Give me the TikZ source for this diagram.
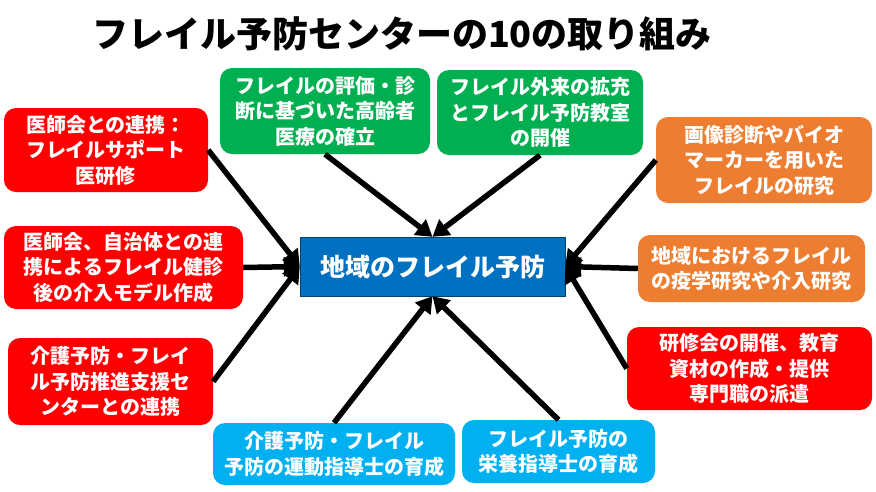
\documentclass[tikz,border=0pt]{standalone}
\usepackage{fontspec}
\setmainfont{Noto Sans CJK JP}
\usetikzlibrary{arrows.meta}

\tikzset{
  waku/.style={rounded corners=12pt, text=white, align=center, inner sep=0pt,
    font=\bfseries\fontsize{20}{25.5}\selectfont},
  yaji/.style={line width=5.5pt, -{Triangle[length=16pt,width=19pt]}}
}
\definecolor{aka}{HTML}{FF0000}
\definecolor{midori}{HTML}{00B050}
\definecolor{daidai}{HTML}{ED7D31}
\definecolor{mizu}{HTML}{00B0F0}
\definecolor{ao}{HTML}{0070C0}

\begin{document}
\begin{tikzpicture}[x=1pt, y=-1pt]
	\useasboundingbox[fill=white] (0,0) rectangle (876,491);
	\node (title) at (402,34) {\bfseries\fontsize{36}{40}\selectfont フレイル予防センターの10の取り組み};
	\node[draw=ao!60!black, fill=ao, text=white, inner sep=0pt, minimum width=265pt, minimum height=59pt, font=\bfseries\fontsize{25}{30}\selectfont] (chiiki) at (432.5,266.5) {地域のフレイル予防};
	\node[waku, fill=aka, minimum width=204pt, minimum height=84pt] (isha) at (106,150) {医師会との連携：\\フレイルサポート\\医研修};
	\node[waku, fill=aka, minimum width=239pt, minimum height=83pt] (kenshin) at (123.5,267.5) {医師会、自治体との連\\携によるフレイル健診\\後の介入モデル作成};
	\node[waku, fill=aka, minimum width=205pt, minimum height=87pt] (suishin) at (110.5,381.5) {介護予防・フレイ\\ル予防推進支援セ\\ンターとの連携};
	\node[waku, fill=midori, minimum width=210pt, minimum height=86pt] (hyoka) at (325,111) {フレイルの評価・診\\断に基づいた高齢者\\医療の確立};
	\node[waku, fill=midori, minimum width=206pt, minimum height=85pt] (gairai) at (540,112.5) {フレイル外来の拡充\\とフレイル予防教室\\の開催};
	\node[waku, fill=daidai, minimum width=216pt, minimum height=86pt] (gazo) at (764,160) {画像診断やバイオ\\マーカーを用いた\\フレイルの研究};
	\node[waku, fill=daidai, minimum width=227pt, minimum height=67pt] (ekigaku) at (751.5,268.5) {地域におけるフレイル\\の疫学研究や介入研究};
	\node[waku, fill=aka, minimum width=245pt, minimum height=83pt] (kenshu) at (749.5,368.5) {研修会の開催、教育\\資材の作成・提供\\専門職の派遣};
	\node[waku, fill=mizu, minimum width=242pt, minimum height=62pt] (undo) at (334,454) {介護予防・フレイル\\予防の運動指導士の育成};
	\node[waku, fill=mizu, minimum width=193pt, minimum height=63pt] (eiyo) at (558.5,451.5) {フレイル予防の\\栄養指導士の育成};
	\draw[yaji] (isha.east) -- (chiiki.west);
	\draw[yaji] (kenshin.east) -- (chiiki.west);
	\draw[yaji] (suishin.east) -- (chiiki.west);
	\draw[yaji] (hyoka.south) -- (chiiki.north);
	\draw[yaji] (gairai.south) -- (chiiki.north);
	\draw[yaji] (undo.north) -- (chiiki.south);
	\draw[yaji] (eiyo.north) -- (chiiki.south);
	\draw[yaji] (gazo.west) -- (chiiki.east);
	\draw[yaji] (ekigaku.west) -- (chiiki.east);
	\draw[yaji] (kenshu.west) -- (chiiki.east);
\end{tikzpicture}
\end{document}
